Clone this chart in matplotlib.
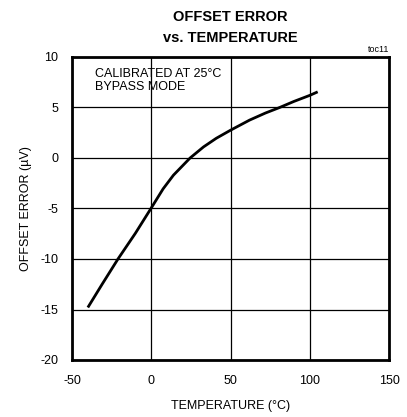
import matplotlib
matplotlib.use("Agg")
import matplotlib.pyplot as plt
from matplotlib import font_manager

names = {f.name for f in font_manager.fontManager.ttflist}
narrow = "Liberation Sans Narrow" if "Liberation Sans Narrow" in names else "Liberation Sans"
plt.rcParams['font.family'] = [narrow, 'DejaVu Sans']

temp = [-40, -31, -21, -10, 0, 7.5, 14, 24.5, 33, 41, 50, 62, 72, 81, 90, 100, 105]
offset = [-14.8, -12.5, -10.0, -7.45, -4.95, -3.05, -1.7, 0.0, 1.1, 1.95, 2.75, 3.75, 4.45, 5.0, 5.6, 6.2, 6.55]
xticks = [-50, 0, 50, 100, 150]
yticks = [-20, -15, -10, -5, 0, 5, 10]

fig = plt.figure(figsize=(4.07, 4.17), dpi=100)
ax = fig.add_axes([72/407, 1-360/417, (389-72)/407, (360-57)/417])

ax.plot(temp, offset, color='black', lw=2.0, solid_capstyle='butt', solid_joinstyle='round')
ax.set_xlim(-50, 150)
ax.set_ylim(-20, 10)
ax.set_xticks(xticks)
ax.set_yticks(yticks)
ax.set_xticklabels([str(v) for v in xticks], fontsize=9)
ax.set_yticklabels([str(v) for v in yticks], fontsize=9)
ax.tick_params(axis='x', length=0, pad=11)
ax.tick_params(axis='y', length=0, pad=10)
ax.grid(True, color='black', lw=0.9)
ax.set_axisbelow(True)
for s in ax.spines.values():
    s.set_linewidth(2.0)

ax.set_xlabel('TEMPERATURE (°C)', fontsize=9, labelpad=9)
ax.set_ylabel('OFFSET ERROR (µV)', fontsize=9, labelpad=6)

fig.text(230/407, 1-17/417, 'OFFSET ERROR', fontsize=10.5, fontweight='bold', ha='center', va='center')
fig.text(230/407, 1-38/417, 'vs. TEMPERATURE', fontsize=10.5, fontweight='bold', ha='center', va='center')
fig.text(389/407, 1-49/417, 'toc11', fontsize=6.5, ha='right', va='center')

ax.text(0.073, 0.965, 'CALIBRATED AT 25°C\nBYPASS MODE', transform=ax.transAxes,
        fontsize=9, ha='left', va='top', linespacing=1.2)

fig.savefig('out.png', dpi=100)
